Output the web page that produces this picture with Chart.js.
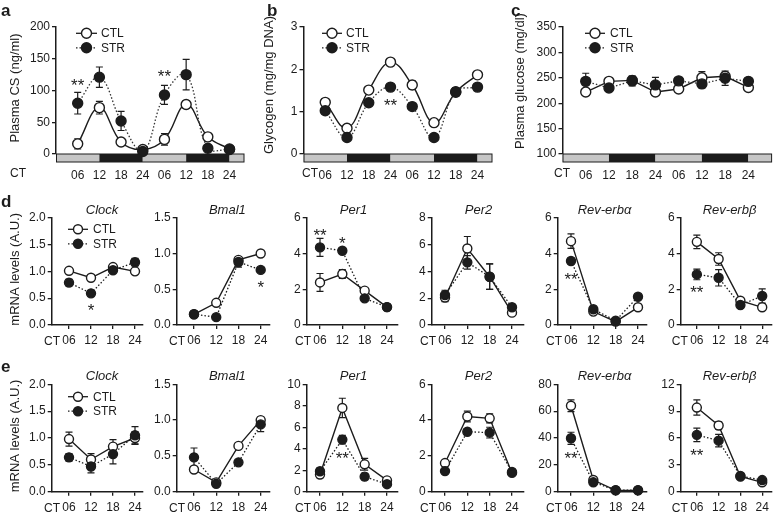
<!DOCTYPE html>
<html>
<head>
<meta charset="utf-8">
<script src="https://cdn.jsdelivr.net/npm/chart.js@4.4.0/dist/chart.umd.min.js"></script>
<style>
  body { margin: 0; background: #fff; width: 778px; height: 513px; overflow: hidden; position: relative; }
  canvas { position: absolute; left: 0; top: 0; }
</style>
</head>
<body>
<script>
// ---- data ----
const topHours = [6, 12, 18, 24, 30, 36, 42, 48];
const topTickLabels = ['06', '12', '18', '24', '06', '12', '18', '24'];
const phaseEdges = [0, 12, 24, 36, 48];   // light / dark bar boundaries (CT)
const rowHours = [6, 12, 18, 24];
const rowTickLabels = ['06', '12', '18', '24'];
const geneTitles = ['Clock', 'Bmal1', 'Per1', 'Per2', 'Rev-erbα', 'Rev-erbβ'];

// a: plasma CS
const csCTL = [16, 73, 19, 7, 23, 78, 27, 8];
const csCTLErr = [8, 10, 4, 3, 9, 6, 4, 2];
const csSTR = [80, 121, 52, 4, 93, 125, 9, 7];
const csSTRErr = [17, 16, 15, 3, 15, 24, 3, 2];
const csStarHours = [6, 30];
const csStarValues = [114, 129];
const csStarText = ['**', '**'];

// b: liver glycogen
const glyCTL = [1.22, 0.61, 1.51, 2.17, 1.63, 0.74, 1.46, 1.87];
const glyCTLErr = [0.08, 0.04, 0.07, 0.04, 0.1, 0.04, 0.08, 0.05];
const glySTR = [1.02, 0.39, 1.21, 1.58, 1.12, 0.39, 1.47, 1.58];
const glySTRErr = [0.08, 0.05, 0.05, 0.05, 0.05, 0.04, 0.1, 0.05];
const glyStarHours = [24];
const glyStarValues = [1.25];
const glyStarText = ['**'];

// c: plasma glucose
const glcCTL = [222, 243, 245, 222, 228, 250, 253, 231];
const glcCTLErr = [6, 5, 6, 5, 5, 12, 6, 5];
const glcSTR = [243, 230, 244, 236, 244, 238, 249, 243];
const glcSTRErr = [16, 5, 10, 15, 5, 8, 14, 5];

// d: mRNA row 1
const clockD_CTL = [1.01, 0.88, 1.08, 1.0],  clockD_CTLErr = [0.03, 0.03, 0.04, 0.03];
const clockD_STR = [0.79, 0.59, 1.02, 1.17], clockD_STRErr = [0.06, 0.05, 0.03, 0.07];
const bmal1D_CTL = [0.15, 0.31, 0.91, 1.0],  bmal1D_CTLErr = [0.02, 0.03, 0.04, 0.02];
const bmal1D_STR = [0.15, 0.11, 0.88, 0.77], bmal1D_STRErr = [0.02, 0.02, 0.07, 0.03];
const per1D_CTL = [2.38, 2.85, 1.92, 1.0],   per1D_CTLErr = [0.5, 0.25, 0.12, 0.1];
const per1D_STR = [4.34, 4.15, 1.49, 1.0],   per1D_STRErr = [0.5, 0.1, 0.12, 0.1];
const per2D_CTL = [2.05, 5.7, 3.6, 0.92],    per2D_CTLErr = [0.3, 0.9, 0.95, 0.2];
const per2D_STR = [2.24, 4.67, 3.6, 1.32],   per2D_STRErr = [0.35, 0.5, 0.95, 0.2];
const revaD_CTL = [4.69, 0.75, 0.19, 0.99],  revaD_CTLErr = [0.4, 0.1, 0.05, 0.1];
const revaD_STR = [3.58, 0.88, 0.24, 1.58],  revaD_STRErr = [0.15, 0.1, 0.05, 0.1];
const revbD_CTL = [4.65, 3.69, 1.36, 0.99],  revbD_CTLErr = [0.38, 0.35, 0.1, 0.1];
const revbD_STR = [2.83, 2.64, 1.12, 1.62],  revbD_STRErr = [0.3, 0.46, 0.1, 0.4];
const rowDMax = [2, 1.5, 6, 8, 6, 6];
const rowDStep = [0.5, 0.5, 2, 2, 2, 2];
const rowDStars = [[[12, 0.35, '*']], [[24, 0.58, '*']], [[6, 5.25, '**'], [12, 4.8, '*']], [], [[6, 2.8, '**']], [[6, 2.05, '**']]];

// e: mRNA row 2
const clockE_CTL = [0.98, 0.6, 0.84, 1.0],   clockE_CTLErr = [0.13, 0.11, 0.13, 0.12];
const clockE_STR = [0.64, 0.47, 0.7, 1.05],  clockE_STRErr = [0.07, 0.12, 0.18, 0.16];
const bmal1E_CTL = [0.31, 0.13, 0.64, 1.0],  bmal1E_CTLErr = [0.03, 0.02, 0.04, 0.04];
const bmal1E_STR = [0.48, 0.11, 0.41, 0.94], bmal1E_STRErr = [0.13, 0.02, 0.03, 0.1];
const per1E_CTL = [1.6, 7.8, 2.55, 1.05],    per1E_CTLErr = [0.3, 0.9, 0.55, 0.15];
const per1E_STR = [1.9, 4.85, 1.4, 0.7],     per1E_STRErr = [0.3, 0.4, 0.3, 0.1];
const per2E_CTL = [1.6, 4.2, 4.1, 1.05],     per2E_CTLErr = [0.1, 0.3, 0.25, 0.1];
const per2E_STR = [1.15, 3.35, 3.3, 1.1],    per2E_STRErr = [0.1, 0.15, 0.3, 0.1];
const revaE_CTL = [64, 8.7, 1, 1],           revaE_CTLErr = [4.4, 1, 0.3, 0.3];
const revaE_STR = [39.8, 7, 1.2, 1.2],       revaE_STRErr = [4.5, 1, 0.3, 0.3];
const revbE_CTL = [9.4, 7.4, 1.7, 1.05],     revbE_CTLErr = [0.85, 0.4, 0.2, 0.2];
const revbE_STR = [6.35, 5.7, 1.75, 1.3],    revbE_STRErr = [0.75, 0.7, 0.2, 0.2];
const rowEMax = [2, 1.5, 10, 6, 80, 12];
const rowEStep = [0.5, 0.5, 2, 2, 20, 3];
const rowEStars = [[], [], [[12, 3.5, '**']], [], [[6, 27.9, '**']], [[6, 4.55, '**']]];

// ---- layout / style ----
const INK = '#1c1c1c';
const GREY = '#c6c6c6';
const FONT = '"Liberation Sans", Arial, Helvetica, sans-serif';
const W = 778, H = 513, Y_W = 30;

const rowCols = [
  { l: 51.7, r: 142.5, p06: 69, p24: 135 },
  { l: 176.7, r: 270, p06: 194, p24: 260.7 },
  { l: 306.7, r: 398, p06: 320, p24: 387 },
  { l: 431.7, r: 524, p06: 445, p24: 512 },
  { l: 557.7, r: 647, p06: 571, p24: 638 },
  { l: 680.7, r: 773, p06: 697, p24: 763 },
];
const rowBands = [{ t: 217.7, b: 325, letter: 'd', ly: 207, legY: 229.3 },
                  { t: 384.3, b: 491.7, letter: 'e', ly: 372, legY: 396.7 }];

function starsFrom(hours, values, text) {
  return hours.map((h, i) => [h, values[i], text[i]]);
}

const panels = [
  { kind: 'top', hours: topHours, labels: topTickLabels, tension: 0.4,
    ctl: csCTL, ctlErr: csCTLErr, str: csSTR, strErr: csSTRErr,
    stars: starsFrom(csStarHours, csStarValues, csStarText),
    yMin: 0, yMax: 200, yStep: 50, xMin: 0, xMax: 52,
    area: { l: 56, r: 244, t: 27, b: 154 },
    yTitle: { text: 'Plasma CS (ng/ml)', x: 15, y: 88 }, letter: { text: 'a', x: 1, y: 16 },
    ctX: 18, legend: { x1: 76, x2: 97, tx: 101, y: 33.3 } },
  { kind: 'top', hours: topHours, labels: topTickLabels, tension: 0.4,
    ctl: glyCTL, ctlErr: glyCTLErr, str: glySTR, strErr: glySTRErr,
    stars: starsFrom(glyStarHours, glyStarValues, glyStarText),
    yMin: 0, yMax: 3, yStep: 1, xMin: 0, xMax: 52,
    area: { l: 303.5, r: 492, t: 27, b: 154 },
    yTitle: { text: 'Glycogen (mg/mg DNA)', x: 269, y: 85 }, letter: { text: 'b', x: 267, y: 16 },
    ctX: 310, legend: { x1: 322, x2: 342, tx: 346, y: 33.3 } },
  { kind: 'top', hours: topHours, labels: topTickLabels, tension: 0,
    ctl: glcCTL, ctlErr: glcCTLErr, str: glcSTR, strErr: glcSTRErr, stars: [],
    yMin: 100, yMax: 350, yStep: 50, xMin: 0, xMax: 54,
    area: { l: 562.5, r: 776, t: 27, b: 154 },
    yTitle: { text: 'Plasma glucose (mg/dl)', x: 520, y: 81 }, letter: { text: 'c', x: 511, y: 16 },
    ctX: 562, legend: { x1: 585, x2: 605, tx: 610, y: 33.3 } },
];

const rowD = [[clockD_CTL, clockD_CTLErr, clockD_STR, clockD_STRErr], [bmal1D_CTL, bmal1D_CTLErr, bmal1D_STR, bmal1D_STRErr],
              [per1D_CTL, per1D_CTLErr, per1D_STR, per1D_STRErr], [per2D_CTL, per2D_CTLErr, per2D_STR, per2D_STRErr],
              [revaD_CTL, revaD_CTLErr, revaD_STR, revaD_STRErr], [revbD_CTL, revbD_CTLErr, revbD_STR, revbD_STRErr]];
const rowE = [[clockE_CTL, clockE_CTLErr, clockE_STR, clockE_STRErr], [bmal1E_CTL, bmal1E_CTLErr, bmal1E_STR, bmal1E_STRErr],
              [per1E_CTL, per1E_CTLErr, per1E_STR, per1E_STRErr], [per2E_CTL, per2E_CTLErr, per2E_STR, per2E_STRErr],
              [revaE_CTL, revaE_CTLErr, revaE_STR, revaE_STRErr], [revbE_CTL, revbE_CTLErr, revbE_STR, revbE_STRErr]];

[[rowD, rowDMax, rowDStep, rowDStars], [rowE, rowEMax, rowEStep, rowEStars]].forEach(([row, maxes, steps, stars], r) => {
  const band = rowBands[r];
  row.forEach((d, c) => {
    const col = rowCols[c];
    const k = 18 / (col.p24 - col.p06);
    panels.push({
      kind: 'row', hours: rowHours, labels: rowTickLabels, tension: 0,
      ctl: d[0], ctlErr: d[1], str: d[2], strErr: d[3], stars: stars[c],
      yMin: 0, yMax: maxes[c], yStep: steps[c], decimals: steps[c] < 1 ? 1 : 0,
      xMin: 6 - (col.p06 - col.l) * k, xMax: 24 + (col.r - col.p24) * k,
      area: { l: col.l, r: col.r, t: band.t, b: band.b },
      title: geneTitles[c],
      yTitle: c === 0 ? { text: 'mRNA levels (A.U.)', x: 15, y: (band.t + band.b) / 2 - 2 } : null,
      letter: c === 0 ? { text: band.letter, x: 1, y: band.ly } : null,
      legend: c === 0 ? { x1: 68, x2: 88, tx: 93, y: band.legY } : null,
    });
  });
});

// ---- drawing helpers ----
function drawMarker(ctx, x, y, r, filled) {
  ctx.beginPath();
  ctx.arc(x, y, r, 0, Math.PI * 2);
  ctx.fillStyle = filled ? INK : '#fff';
  ctx.fill();
  ctx.lineWidth = 1.4;
  ctx.strokeStyle = INK;
  ctx.stroke();
}

function decoPlugin(p) {
  const isTop = p.kind === 'top';
  return {
    id: 'deco',
    beforeDatasetsDraw(chart) {
      const { ctx, chartArea: a, scales: { x, y } } = chart;
      ctx.save();
      if (isTop) {
        const h = 8;
        const edges = phaseEdges.concat([p.xMax]);
        for (let i = 0; i < edges.length - 1; i++) {
          const x0 = x.getPixelForValue(edges[i]), x1 = x.getPixelForValue(edges[i + 1]);
          ctx.fillStyle = i % 2 ? INK : GREY;
          ctx.fillRect(x0, a.bottom, x1 - x0, h);
        }
        ctx.strokeStyle = INK;
        ctx.lineWidth = 1;
        ctx.strokeRect(a.left + 0.5, a.bottom, a.right - a.left - 0.5, h);
      }
      // error bars
      ctx.strokeStyle = INK;
      ctx.lineWidth = 1.2;
      [[p.ctl, p.ctlErr], [p.str, p.strErr]].forEach(([vals, errs]) => {
        vals.forEach((v, i) => {
          const e = errs[i];
          if (!e) return;
          const px = x.getPixelForValue(p.hours[i]);
          const y1 = y.getPixelForValue(v - e), y2 = y.getPixelForValue(v + e);
          ctx.beginPath();
          ctx.moveTo(px, y1); ctx.lineTo(px, y2);
          ctx.moveTo(px - 3.5, y1); ctx.lineTo(px + 3.5, y1);
          ctx.moveTo(px - 3.5, y2); ctx.lineTo(px + 3.5, y2);
          ctx.stroke();
        });
      });
      ctx.restore();
    },
    afterDraw(chart) {
      const { ctx, chartArea: a, scales: { x, y } } = chart;
      ctx.save();
      ctx.fillStyle = INK;
      if (p.letter) {
        ctx.font = 'bold 17px ' + FONT;
        ctx.textAlign = 'left';
        ctx.textBaseline = 'alphabetic';
        ctx.fillText(p.letter.text, p.letter.x, p.letter.y);
      }
      if (p.yTitle) {
        ctx.save();
        ctx.translate(p.yTitle.x, p.yTitle.y);
        ctx.rotate(-Math.PI / 2);
        ctx.font = '13px ' + FONT;
        ctx.textAlign = 'center';
        ctx.textBaseline = 'middle';
        ctx.fillText(p.yTitle.text, 0, 0);
        ctx.restore();
      }
      // "CT" prefix on the time axis
      ctx.font = '12px ' + FONT;
      ctx.textBaseline = 'middle';
      if (isTop) {
        ctx.textAlign = 'center';
        ctx.fillText('CT', p.ctX, a.bottom + 20);
      } else {
        ctx.textAlign = 'right';
        ctx.fillText('CT', x.getPixelForValue(p.hours[0]) - 9, a.bottom + 17);
      }
      if (p.title) {
        ctx.font = 'italic 13px ' + FONT;
        ctx.textAlign = 'center';
        ctx.textBaseline = 'alphabetic';
        ctx.fillText(p.title, x.getPixelForValue(15), a.top - 4);
      }
      if (p.legend) {
        const L = p.legend, r = isTop ? 5 : 4.5, cx = (L.x1 + L.x2) / 2;
        [[L.y, false, 'CTL'], [L.y + 14.5, true, 'STR']].forEach(([ly, filled, txt]) => {
          ctx.beginPath();
          ctx.setLineDash(filled ? [1.5, 2] : []);
          ctx.lineWidth = 1.3;
          ctx.strokeStyle = INK;
          ctx.moveTo(L.x1, ly); ctx.lineTo(L.x2, ly);
          ctx.stroke();
          ctx.setLineDash([]);
          drawMarker(ctx, cx, ly, r, filled);
          ctx.fillStyle = INK;
          ctx.font = '12px ' + FONT;
          ctx.textAlign = 'left';
          ctx.textBaseline = 'middle';
          ctx.fillText(txt, L.tx, ly + 0.5);
        });
      }
      ctx.font = '17px ' + FONT;
      ctx.textAlign = 'center';
      ctx.textBaseline = 'alphabetic';
      p.stars.forEach(([h, v, t]) => {
        ctx.fillText(t, x.getPixelForValue(h), y.getPixelForValue(v) + 17 * 0.58);
      });
      ctx.restore();
    }
  };
}

function makeChart(p) {
  const cv = document.createElement('canvas');
  cv.width = W; cv.height = H;
  cv.style.width = W + 'px'; cv.style.height = H + 'px';
  document.body.appendChild(cv);
  const isTop = p.kind === 'top';
  const xH = Math.min(40, H - p.area.b);   // x axis box tall enough that labels are not clipped
  const pts = vals => vals.map((v, i) => ({ x: p.hours[i], y: v }));
  const r = isTop ? 5 : 4.5;
  const tickFont = { family: FONT, size: 12 };
  new Chart(cv, {
    type: 'line',
    data: {
      datasets: [
        { data: pts(p.str), showLine: false, pointRadius: r, pointBackgroundColor: INK,
          pointBorderColor: INK, pointBorderWidth: 1.4, clip: false },
        { data: pts(p.ctl), showLine: false, pointRadius: r, pointBackgroundColor: '#fff',
          pointBorderColor: INK, pointBorderWidth: 1.4, clip: false },
        { data: pts(p.str), pointRadius: 0, borderColor: isTop ? '#333' : INK, borderWidth: 1.3,
          borderDash: [1.5, 2], tension: p.tension, fill: false, clip: false },
        { data: pts(p.ctl), pointRadius: 0, borderColor: INK, borderWidth: 1.4,
          tension: p.tension, fill: false, clip: false },
      ]
    },
    options: {
      responsive: false,
      animation: false,
      devicePixelRatio: 1,
      events: [],
      layout: { padding: { left: p.area.l - Y_W, right: W - p.area.r, top: p.area.t, bottom: H - p.area.b - xH } },
      plugins: { legend: { display: false }, tooltip: { enabled: false } },
      scales: {
        x: {
          type: 'linear', min: p.xMin, max: p.xMax,
          afterBuildTicks: s => { s.ticks = p.hours.map(v => ({ value: v })); },
          afterFit: s => { s.height = xH; },
          grid: isTop ? { display: false }
                      : { display: true, drawOnChartArea: false, drawTicks: true, tickLength: 4, color: INK, lineWidth: 1.3 },
          border: { display: !isTop, color: INK, width: 1.5 },
          ticks: { color: INK, font: tickFont, padding: isTop ? 6 : 4.5, maxRotation: 0, autoSkip: false,
                   callback: (v, i) => p.labels[i] }
        },
        y: {
          min: p.yMin, max: p.yMax,
          afterFit: s => { s.width = Y_W; },
          afterBuildTicks: s => {
            const t = [];
            for (let v = p.yMin; v <= p.yMax + 1e-9; v += p.yStep) t.push({ value: +v.toFixed(4) });
            s.ticks = t;
          },
          grid: { display: true, drawOnChartArea: false, drawTicks: true, tickLength: 4, color: INK, lineWidth: 1.3 },
          border: { display: true, color: INK, width: 1.5 },
          ticks: { color: INK, font: tickFont, padding: 2,
                   callback: v => p.decimals ? v.toFixed(1) : String(v) }
        }
      }
    },
    plugins: [decoPlugin(p)]
  });
}

panels.forEach(makeChart);
</script>
</body>
</html>
